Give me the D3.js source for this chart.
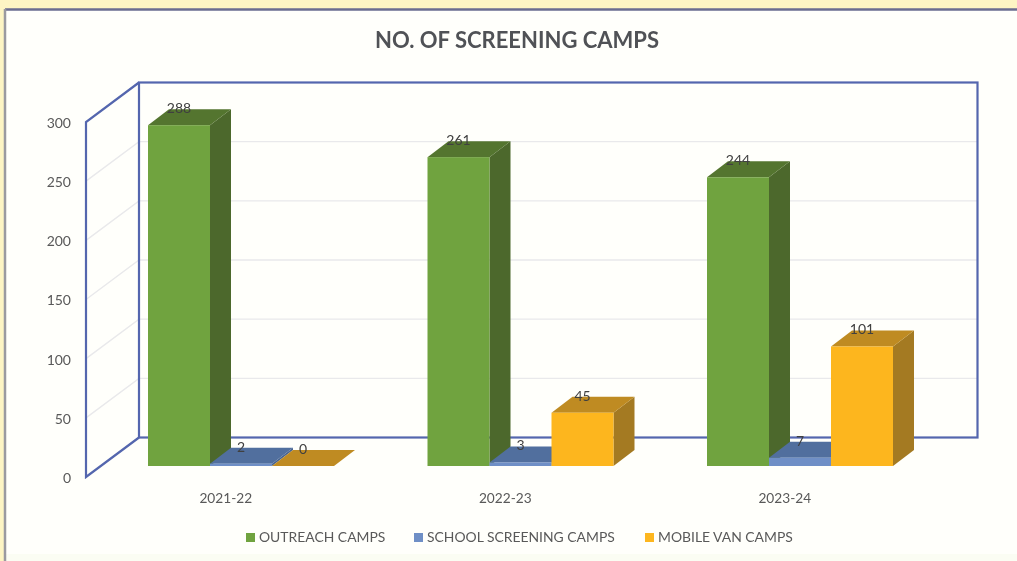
<!DOCTYPE html>
<html>
<head>
<meta charset="utf-8">
<script src="https://cdn.jsdelivr.net/npm/d3@7"></script>
<style>
  html, body { margin: 0; padding: 0; background: #fdf5c4; overflow: hidden; }
  text { font-family: Lato, "Open Sans", sans-serif; }
  svg { filter: blur(0.45px); }
</style>
</head>
<body>
<div id="chart"></div>
<script>
// values
const categories = ["2021-22", "2022-23", "2023-24"];
const seriesNames = ["OUTREACH CAMPS", "SCHOOL SCREENING CAMPS", "MOBILE VAN CAMPS"];
const outreach = [288, 261, 244];
const school = [2, 3, 7];
const mobile = [0, 45, 101];
const yTicks = [0, 50, 100, 150, 200, 250, 300];

const seriesValues = [outreach, school, mobile];
const frontColors = ["#70a33f", "#6f8fc6", "#fdb61e"];
const topColors = ["#54752f", "#516f9e", "#bf8b22"];
const sideColors = ["#4c682c", "#486490", "#a47a22"];

const W = 1017, H = 561;

const svg = d3.select("#chart")
  .append("svg")
    .attr("width", W)
    .attr("height", H)
    .style("display", "block");

// yellow page behind the panel
svg.append("rect")
  .attr("width", W).attr("height", H)
  .attr("fill", "#fdf5c4");

// white panel, it runs off the right and bottom of the picture
svg.append("rect")
  .attr("x", 5).attr("y", 9)
  .attr("width", W).attr("height", H)
  .attr("fill", "#fffffb");
svg.append("rect")
  .attr("x", 6).attr("y", 554).attr("width", W).attr("height", 7)
  .attr("fill", "#fbfdf3");
svg.append("line")
  .attr("x1", 5).attr("x2", W).attr("y1", 9.5).attr("y2", 9.5)
  .attr("stroke", "#6a6d90").attr("stroke-width", 2.5);
svg.append("line")
  .attr("x1", 5).attr("x2", 5).attr("y1", 9).attr("y2", H)
  .attr("stroke", "#9a9aa0").attr("stroke-width", 2.5);

svg.append("text")
  .attr("x", 517).attr("y", 48)
  .attr("text-anchor", "middle")
  .attr("font-size", 22)
  .attr("font-weight", 700)
  .attr("fill", "#505256")
  .text("NO. OF SCREENING CAMPS");

// scales for the front plane of the 3d box
const x0 = d3.scaleBand().domain(categories).range([86, 924.5]);
const y = d3.scaleLinear().domain([0, 300]).range([477, 122]);

// depth offsets: whole box, and where the bars sit in it
const depth = {dx: 53, dy: -39.5};
const barFront = {dx: 16, dy: -11};
const barDepth = {dx: 21, dy: -16};
const barW = 62;
const groupLeft = 62; // first bar starts this far into the band

// gridlines on back wall and left wall
const grid = svg.append("g").attr("fill", "none").attr("stroke", "#e9e9eb").attr("stroke-width", 1.4);
yTicks.slice(1, -1).forEach(t => {
  const p = d3.path();
  p.moveTo(x0.range()[0], y(t));
  p.lineTo(x0.range()[0] + depth.dx, y(t) + depth.dy);
  p.lineTo(x0.range()[1] + depth.dx, y(t) + depth.dy);
  grid.append("path").attr("d", p.toString());
});

// box outline
const frame = svg.append("g").attr("fill", "none").attr("stroke", "#5466ae").attr("stroke-width", 2.2);
frame.append("rect")
  .attr("x", x0.range()[0] + depth.dx)
  .attr("y", y(300) + depth.dy)
  .attr("width", x0.range()[1] - x0.range()[0])
  .attr("height", y(0) - y(300));
frame.append("path").attr("d", d3.line()([
  [x0.range()[0] + depth.dx, y(300) + depth.dy],
  [x0.range()[0], y(300)],
  [x0.range()[0], y(0)],
  [x0.range()[0] + depth.dx, y(0) + depth.dy]
]));

// y axis labels only, no line
const yAxis = svg.append("g")
  .attr("transform", `translate(${x0.range()[0]},1)`)
  .call(d3.axisLeft(y).tickValues(yTicks).tickSize(0).tickPadding(15));
yAxis.select(".domain").remove();
yAxis.selectAll("text").attr("font-size", 14).attr("fill", "#595959").style("font-family", "Lato");

// x axis labels
const xAxis = svg.append("g")
  .attr("transform", "translate(0,477)")
  .call(d3.axisBottom(x0).tickSize(0).tickPadding(16));
xAxis.select(".domain").remove();
xAxis.selectAll("text").attr("font-size", 13.7).attr("fill", "#595959").style("font-family", "Lato");

// bars: left to right so each one overlaps its neighbour's side
const line = d3.line();
categories.forEach((cat, i) => {
  seriesValues.forEach((vals, s) => {
    const v = vals[i];
    const xl = x0(cat) + groupLeft + s * barW;
    const xr = xl + barW;
    const yb = y(0) + barFront.dy;
    const yt = y(v) + barFront.dy;
    const g = svg.append("g").attr("class", "bar");
    // side
    g.append("path").attr("fill", sideColors[s]).attr("d", line([
      [xr, yb], [xr + barDepth.dx, yb + barDepth.dy],
      [xr + barDepth.dx, yt + barDepth.dy], [xr, yt]
    ]) + "Z");
    // top
    g.append("path").attr("fill", topColors[s]).attr("d", line([
      [xl, yt], [xl + barDepth.dx, yt + barDepth.dy],
      [xr + barDepth.dx, yt + barDepth.dy], [xr, yt]
    ]) + "Z");
    // front
    g.append("rect").attr("fill", frontColors[s])
      .attr("x", xl).attr("y", yt)
      .attr("width", barW).attr("height", yb - yt);
  });
});

// data labels on top of the bars
categories.forEach((cat, i) => {
  seriesValues.forEach((vals, s) => {
    svg.append("text")
      .attr("x", x0(cat) + groupLeft + s * barW + 31)
      .attr("y", y(vals[i]) + barFront.dy - 12)
      .attr("text-anchor", "middle")
      .attr("font-size", 14)
      .attr("fill", "#404040")
      .text(vals[i]);
  });
});

// legend
const legendX = [246, 414, 645];
seriesNames.forEach((name, s) => {
  svg.append("rect")
    .attr("x", legendX[s]).attr("y", 533)
    .attr("width", 9).attr("height", 9)
    .attr("fill", frontColors[s]);
  svg.append("text")
    .attr("x", legendX[s] + 13).attr("y", 542)
    .attr("font-size", 13.9)
    .attr("fill", "#595959")
    .text(name);
});
</script>
</body>
</html>
